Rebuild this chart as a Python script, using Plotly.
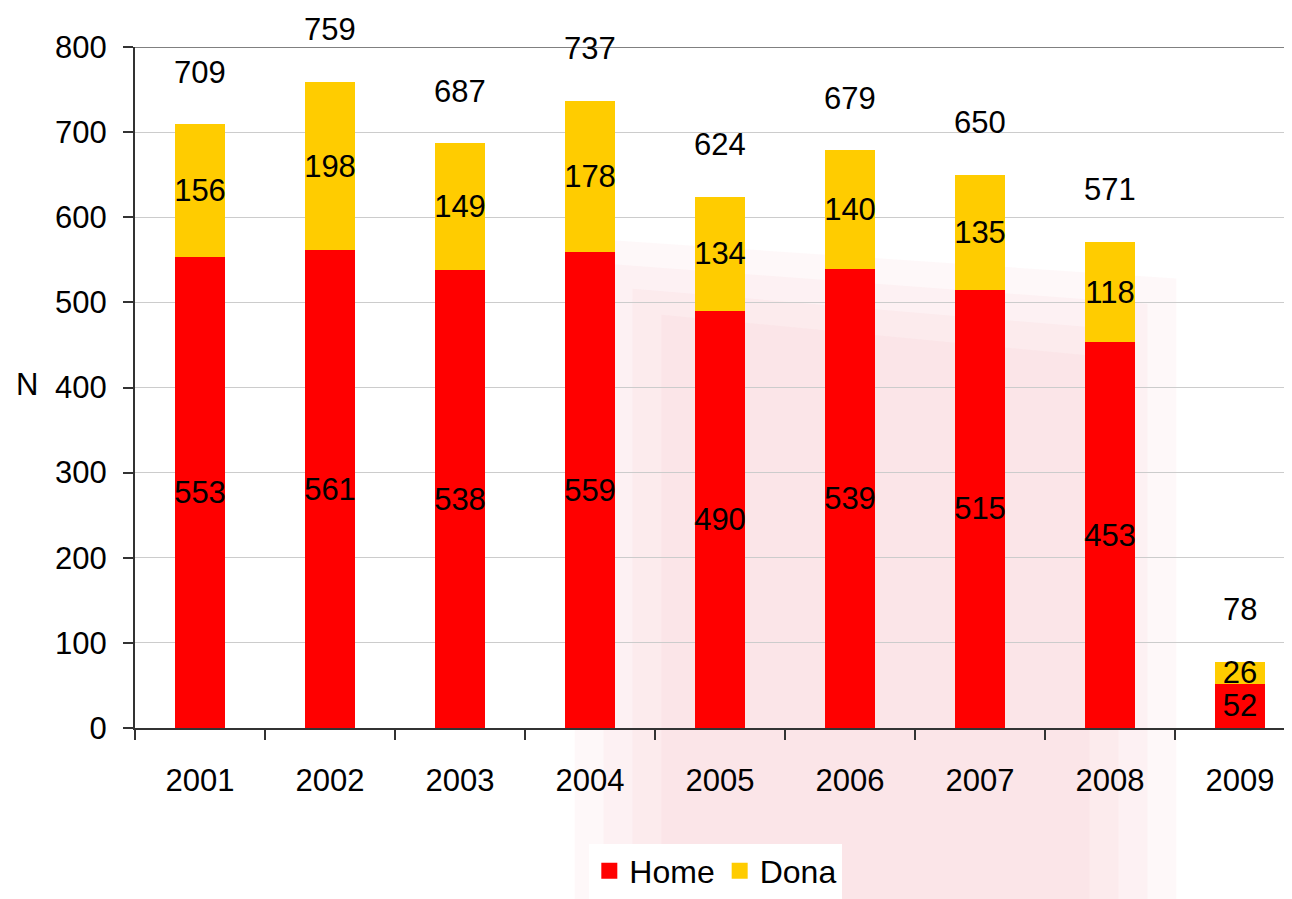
import plotly.graph_objects as go

years = ["2001", "2002", "2003", "2004", "2005", "2006", "2007", "2008", "2009"]
home = [553, 561, 538, 559, 490, 539, 515, 453, 52]
dona = [156, 198, 149, 178, 134, 140, 135, 118, 26]
totals = [h + d for h, d in zip(home, dona)]
y_ticks = [0, 100, 200, 300, 400, 500, 600, 700, 800]

FONT = "Liberation Sans, Arial, sans-serif"
FS = 31
RED = "#ff0000"
YELLOW = "#ffcc00"

fig = go.Figure()
fig.add_trace(go.Bar(
    x=years, y=home, name="Home", marker=dict(color=RED, line=dict(width=0)),
    text=[str(v) for v in home], textposition="inside", insidetextanchor="middle",
    textangle=0, constraintext="none",
    textfont=dict(size=FS, color="black", family=FONT),
    width=0.39, showlegend=False,
))
fig.add_trace(go.Bar(
    x=years, y=dona, name="Dona", marker=dict(color=YELLOW, line=dict(width=0)),
    text=[str(v) for v in dona], textposition="inside", insidetextanchor="middle",
    textangle=0, constraintext="none",
    textfont=dict(size=FS, color="black", family=FONT),
    width=0.39, showlegend=False,
))
# legend entries
for nm, col in (("Home", RED), ("Dona", YELLOW)):
    fig.add_trace(go.Scatter(x=[None], y=[None], mode="markers", name=nm,
                             marker=dict(symbol="square", size=16, color=col)))

for i, t in enumerate(totals):
    fig.add_annotation(x=i, y=t, text=str(t), showarrow=False, yanchor="middle",
                       yshift=52, font=dict(size=FS, color="black", family=FONT))

fig.add_annotation(xref="paper", yref="paper", x=-0.0935, y=0.504, text="N",
                   showarrow=False, xanchor="center", yanchor="middle",
                   font=dict(size=FS, color="black", family=FONT))

# faint, soft-edged watermark behind the plot (nested translucent layers)
for k in range(4):
    d = 0.025 * k
    fig.add_shape(type="path", xref="paper", yref="paper", layer="below",
                  path=(f"M {0.38 + d:.3f} {0.72 - d * 1.5:.3f} "
                        f"L {0.90 - d:.3f} {0.66 - d * 1.5:.3f} "
                        f"L {0.90 - d:.3f} -0.26 L {0.38 + d:.3f} -0.26 Z"),
                  fillcolor="rgba(238,160,172,0.075)", line=dict(width=0))
# top border of plot area
fig.add_shape(type="line", xref="paper", yref="y", x0=0, x1=1, y0=800, y1=800,
              line=dict(color="#808080", width=2))

fig.update_layout(
    barmode="stack",
    width=1284, height=891,
    margin=dict(l=127, r=0, t=39, b=168),
    paper_bgcolor="white", plot_bgcolor="rgba(0,0,0,0)",
    font=dict(family=FONT, size=FS, color="black"),
    showlegend=True,
    legend=dict(orientation="h", x=0.502, xanchor="center", y=-0.21, yanchor="middle",
                font=dict(size=FS + 1, family=FONT), bgcolor="white",
                traceorder="normal", itemwidth=30),
    bargap=0.61,
)
fig.update_xaxes(
    type="category", range=[-0.5, 8.4], showline=True, linecolor="#333333", linewidth=2,
    ticks="outside", tickson="boundaries", ticklen=10, tickcolor="#333333", tickwidth=1.5,
    showgrid=False, tickfont=dict(size=FS, family=FONT), ticklabelstandoff=24,
)
fig.update_yaxes(
    range=[0, 800], tickvals=y_ticks, showline=True, linecolor="#333333", linewidth=2,
    ticks="outside", ticklen=10, tickcolor="#333333", tickwidth=1.5,
    showgrid=True, gridcolor="#cccccc", gridwidth=1, zeroline=False,
    tickfont=dict(size=FS, family=FONT), ticklabelstandoff=10,
)

fig.write_html("out.html")
